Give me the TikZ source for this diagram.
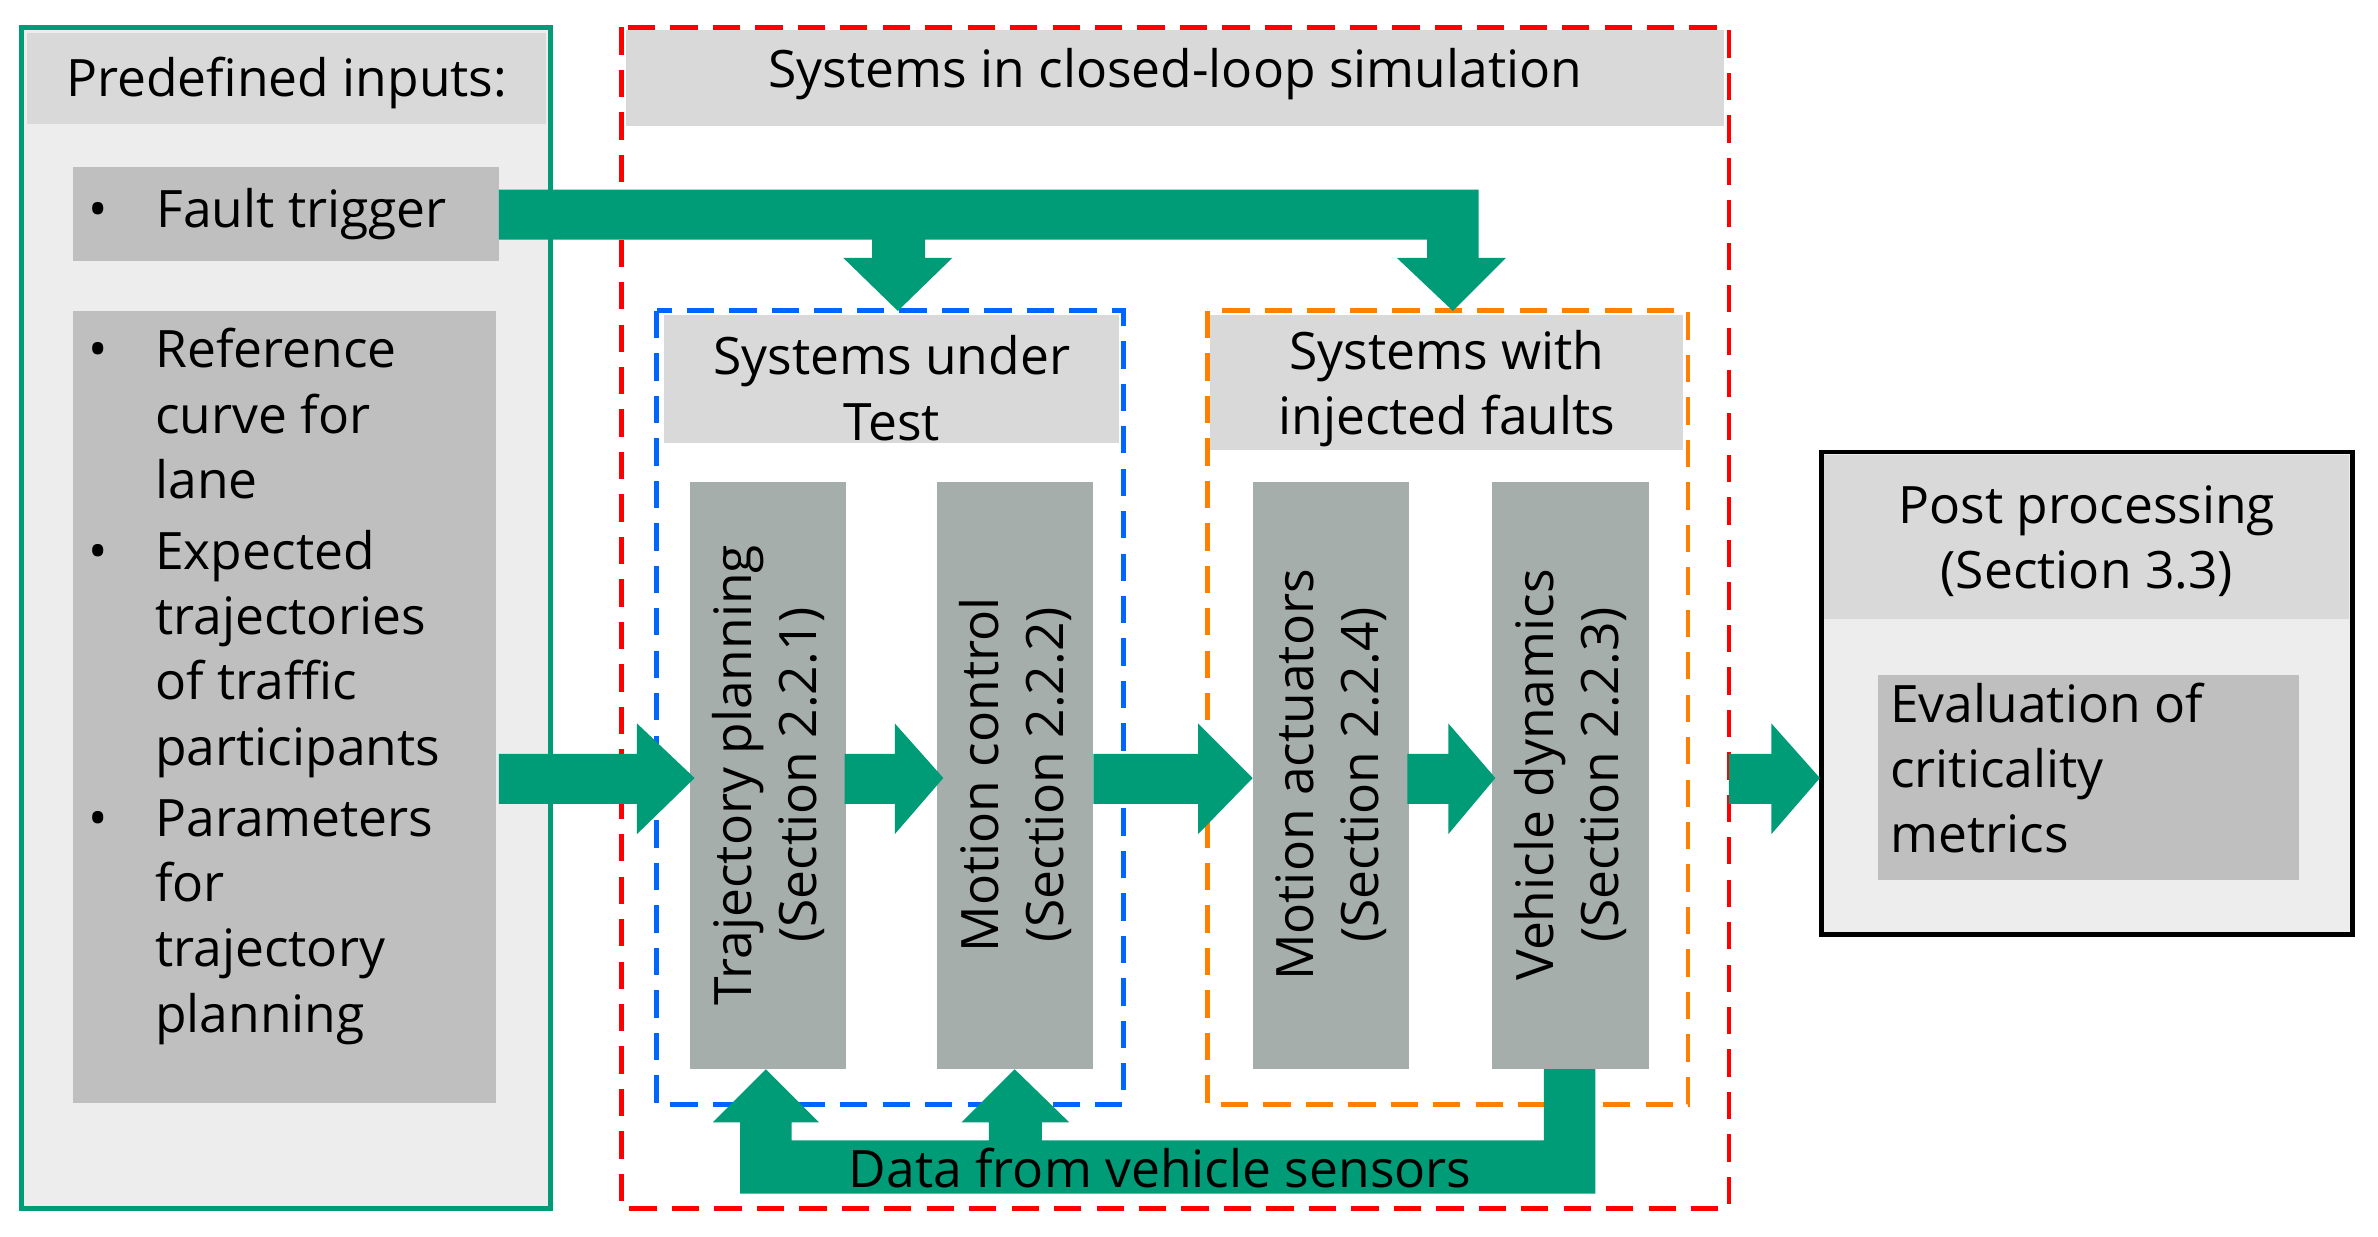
\documentclass[tikz,border=0pt]{standalone}
\usepackage{fontspec}
\setmainfont{Open Sans}
\begin{document}
\begin{tikzpicture}[x=0.5pt,y=-0.5pt,
  every node/.style={font=\fontsize{17}{21.5}\selectfont,inner sep=0pt},
  dsh/.style={line width=1.6pt,dash pattern=on 9pt off 5pt}]
\definecolor{grn}{RGB}{0,155,119}
\definecolor{blk}{RGB}{166,174,171}
\useasboundingbox (0,0) rectangle (1568,815);
% left panel
\draw[grn,line width=1.5pt,fill=black!7] (14,18) rectangle (363,797);
\fill[black!15] (18,22) rectangle (360,82);
\node (pi) at (189,55) {Predefined inputs:};
\fill[black!25] (48,110) rectangle (329,172);
\node[anchor=west] (ft) at (58,141) {•\hspace{16pt}Fault trigger};
\fill[black!25] (48,205) rectangle (327,727);
\node[anchor=north west,align=left] (lst) at (58,212) {%
\begin{tabular}{@{}p{22pt}@{}l@{}}
•&Reference\\&curve for\\&lane\\[2pt]
•&Expected\\&trajectories\\&of traffic\\&participants\\[2pt]
•&Parameters\\&for\\&trajectory\\&planning
\end{tabular}};
% red dashed
\draw[red,dsh] (410,18) rectangle (1140,797);
\fill[black!15] (413,20) rectangle (1137,83);
\node (sc) at (775,49) {Systems in closed-loop simulation};
% blue
\draw[blue!60!cyan,dsh] (433,205) rectangle (741,728);
\fill[black!15] (438,208) rectangle (738,292);
\node[align=center] (sut) at (588,256) {Systems under\\Test};
% orange
\draw[orange,dsh] (796,205) rectangle (1113,728);
\fill[black!15] (798,208) rectangle (1110,297);
\node[align=center] (swf) at (954,256) {Systems with\\injected faults};
% blocks
\foreach \x/\t/\s/\n in {455/Trajectory planning/2.2.1/b1,618/Motion control/2.2.2/b2,826/Motion actuators/2.2.4/b3,984/Vehicle dynamics/2.2.3/b4}{
  \fill[blk] (\x,318) rectangle ++(103,387);
  \node[rotate=90,align=center] (\n) at (\x+51.5,511) {\t\\(Section \s)};
}
% post processing
\draw[black,line width=1.5pt,fill=black!7] (1201,298) rectangle (1551,616);
\fill[black!15] (1203,300) rectangle (1549,408);
\node[align=center] (pp) at (1376,357) {Post processing\\(Section 3.3)};
\fill[black!25] (1238,445) rectangle (1516,580);
\node[anchor=north west,align=left] (ev) at (1246,450) {Evaluation of\\criticality\\metrics};
% green arrows
\newcommand{\harrow}[3]{\fill[grn] (#1,497) -- (#2,497) -- (#2,477) -- (#3,513) -- (#2,550) -- (#2,530) -- (#1,530) -- cycle;}
\harrow{329}{420}{458}
\harrow{557}{590}{622}
\harrow{721}{790}{826}
\harrow{928}{955}{986}
\harrow{1140}{1168}{1200}
% fault trigger
\fill[grn] (329,125) -- (975,125) -- (975,170) -- (993,170) -- (958,205) -- (921,170) -- (941,170) -- (941,158)
  -- (610,158) -- (610,170) -- (628,170) -- (592,205) -- (556,170) -- (575,170) -- (575,158) -- (329,158) -- cycle;
% feedback
\fill[grn] (1018,705) -- (1052,705) -- (1052,787) -- (488,787) -- (488,740) -- (470,740) -- (505,705) -- (540,740) -- (522,740)
  -- (522,752) -- (652,752) -- (652,740) -- (634,740) -- (669,705) -- (705,740) -- (687,740) -- (687,752) -- (1018,752) -- cycle;
\node (data) at (765,770) {Data from vehicle sensors};
\end{tikzpicture}
\end{document}
